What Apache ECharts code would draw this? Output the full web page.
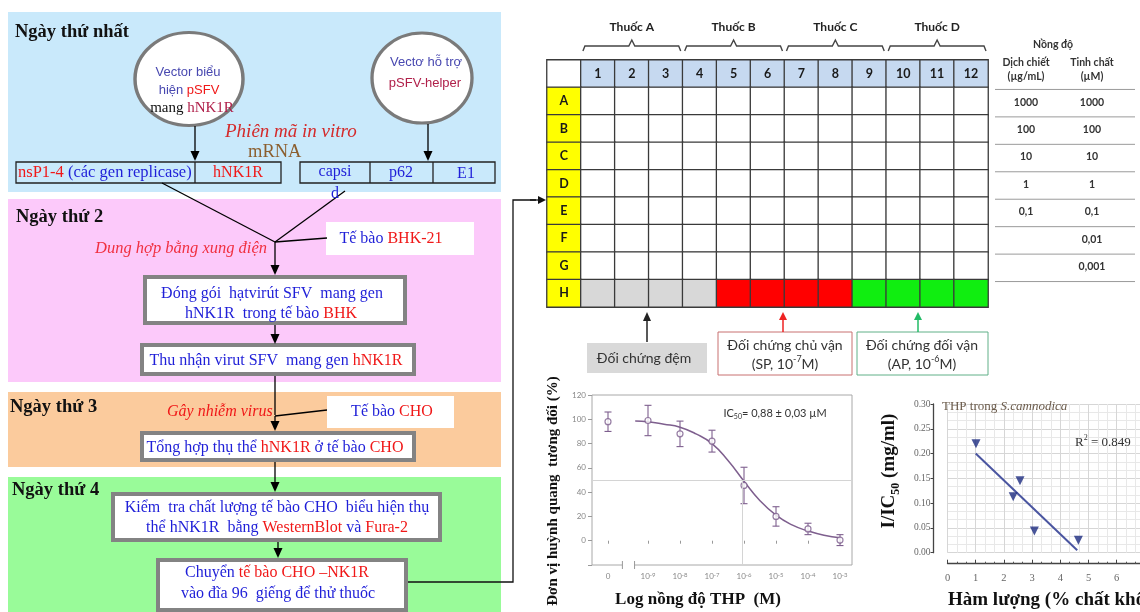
<!DOCTYPE html>
<html>
<head>
<meta charset="utf-8">
<script src="https://cdn.jsdelivr.net/npm/echarts@6/dist/echarts.min.js"></script>
<style>
  html, body { margin: 0; padding: 0; background: #fff; }
  #main { width: 1140px; height: 612px; }
</style>
</head>
<body>
<div id="main"></div>
<script>
// ---- data ----
var plateCols = ['1', '2', '3', '4', '5', '6', '7', '8', '9', '10', '11', '12'];
var plateRows = ['A', 'B', 'C', 'D', 'E', 'F', 'G', 'H'];
var drugs = ['Thuốc A', 'Thuốc B', 'Thuốc C', 'Thuốc D'];
var rowHWells = ['dem', 'dem', 'dem', 'dem', 'sp', 'sp', 'sp', 'sp', 'ap', 'ap', 'ap', 'ap'];
var concExtract = ['1000', '100', '10', '1', '0,1', '', ''];
var concPure = ['1000', '100', '10', '1', '0,1', '0,01', '0,001'];

var doseX = [-10.25, -9, -8, -7, -6, -5, -4, -3];
var doseExp = [null, -9, -8, -7, -6, -5, -4, -3];
var doseMean = [98, 99, 88, 82, 45.5, 20, 9.7, 0.5];
var doseErr = [8, 12.5, 10.5, 9, 15, 8, 4.7, 4.5];
var fitX = [-9.4, -9, -8.5, -8, -7.5, -7, -6.5, -6, -5.5, -5, -4.5, -4, -3.5, -3];
var fitY = [98.5, 98, 96, 93.5, 88, 80, 66, 49, 33, 21, 13, 8, 4.5, 2.5];
var ic50Log = -6.056;

var thpContent = [1.01, 2.33, 2.57, 3.08, 4.64];
var thpInvIC50 = [0.22, 0.113, 0.145, 0.044, 0.025];
var regX = [1.0, 4.6];
var regY = [0.2, 0.005];

// ---- helpers ----
var SERIF = '"Liberation Serif", "Times New Roman", serif';
var SANS = 'Lato, "Open Sans", sans-serif';
var ARIAL = '"Liberation Sans", Arial, sans-serif';
var BLUE = '#1f1fd8', RED = '#f01818', DRED = '#b0204a', PBLUE = '#4848b0';

function rt(x, y, parts, o) {
  o = o || {};
  var size = o.size || 16, fam = o.family || SERIF, rich = {}, s = '';
  parts.forEach(function (p, i) {
    var e = p[2] || {};
    var fs = e.script ? Math.round(size * 0.65) : (e.size || size);
    rich['p' + i] = {
      fill: p[1], fontSize: fs, fontFamily: e.family || fam,
      fontStyle: (e.italic || o.italic) ? 'italic' : 'normal',
      fontWeight: e.weight || o.weight || 'normal',
      lineHeight: e.script ? fs : Math.round(size * 1.35),
      verticalAlign: e.script === 'sub' ? 'bottom' : (e.script === 'sup' ? 'top' : 'middle')
    };
    s += '{p' + i + '|' + p[0] + '}';
  });
  return {
    type: 'text', x: x, y: y, rotation: o.rot || 0, z: 20, silent: true,
    style: { text: s, rich: rich, fontSize: size, fontFamily: fam,
      align: o.align || 'center', verticalAlign: 'middle',
      textAlign: o.align || 'center', textVerticalAlign: 'middle' }
  };
}
function rect(x, y, w, h, fill, stroke, lw, z) {
  return { type: 'rect', z: z || 10, silent: true, shape: { x: x, y: y, width: w, height: h },
    style: { fill: fill || 'none', stroke: stroke || null, lineWidth: lw || 0 } };
}
function ln(x1, y1, x2, y2, color, lw) {
  return { type: 'line', z: 15, silent: true, shape: { x1: x1, y1: y1, x2: x2, y2: y2 },
    style: { stroke: color || '#000', lineWidth: lw || 1.3 } };
}
function arrow(x1, y1, x2, y2, color, lw, hl, hw) {
  color = color || '#000'; lw = lw || 1.3; hl = hl || 10; hw = hw || 4.5;
  var dx = x2 - x1, dy = y2 - y1, len = Math.sqrt(dx * dx + dy * dy), ux = dx / len, uy = dy / len;
  var bx = x2 - ux * hl, by = y2 - uy * hl;
  return [ln(x1, y1, bx, by, color, lw),
    { type: 'polygon', z: 15, silent: true,
      shape: { points: [[x2, y2], [bx - uy * hw, by + ux * hw], [bx + uy * hw, by - ux * hw]] },
      style: { fill: color } }];
}
function bubble(cx, cy, rx, ry) {
  return { type: 'circle', z: 12, silent: true, x: cx, y: cy, scaleX: rx / ry,
    shape: { cx: 0, cy: 0, r: ry }, style: { fill: '#fff', stroke: '#7a7a7a', lineWidth: 3, strokeNoScale: true } };
}

// ---- left flow chart ----
var g = [];
g.push(rect(8, 12, 493, 180, '#c9e9fb', null, 0, 1));
g.push(rect(8, 199, 493, 183, '#fcc9fa', null, 0, 1));
g.push(rect(8, 392, 493, 75, '#fbcb9d', null, 0, 1));
g.push(rect(8, 477, 493, 140, '#99fb99', null, 0, 1));

g.push(rt(15, 32, [['Ngày thứ nhất', '#111']], { size: 18.5, weight: 'bold', align: 'left' }));
g.push(rt(16, 217, [['Ngày thứ 2', '#111']], { size: 18.5, weight: 'bold', align: 'left' }));
g.push(rt(10, 407, [['Ngày thứ 3', '#111']], { size: 18.5, weight: 'bold', align: 'left' }));
g.push(rt(12, 490, [['Ngày thứ 4', '#111']], { size: 18.5, weight: 'bold', align: 'left' }));

g.push(bubble(189, 79, 54, 46.5));
g.push(bubble(422, 78, 50, 45));
g.push(rt(188, 72, [['Vector biểu', PBLUE]], { size: 13, family: ARIAL }));
g.push(rt(189, 90, [['hiện ', PBLUE], ['pSFV', RED]], { size: 13, family: ARIAL }));
g.push(rt(192, 108, [['mang ', '#111'], ['hNK1R', DRED]], { size: 15 }));
g.push(rt(426, 62, [['Vectơ hỗ trợ', PBLUE]], { size: 13, family: ARIAL }));
g.push(rt(425, 83, [['pSFV-helper', DRED]], { size: 13, family: ARIAL }));
g = g.concat(arrow(195, 126, 195, 161), arrow(428, 124, 428, 161));

g.push(rt(225, 132, [['Phiên mã in vitro', '#d42a2a']], { size: 19, italic: true, align: 'left' }));
g.push(rt(248, 152, [['mRNA', '#8b5e2e']], { size: 18.5, align: 'left' }));

g.push(rect(16, 162, 265, 21, 'none', '#222', 1.3, 14));
g.push(ln(195, 162, 195, 183, '#222', 1.3));
g.push(rt(18, 173, [['nsP1-4', RED], [' (các gen replicase)', BLUE]], { size: 16.5, align: 'left' }));
g.push(rt(238, 173, [['hNK1R', RED]], { size: 16 }));
g.push(rect(300, 162, 195, 21, 'none', '#222', 1.3, 14));
g.push(ln(370, 162, 370, 183, '#222', 1.3));
g.push(ln(433, 162, 433, 183, '#222', 1.3));
g.push(rt(335, 172, [['capsi', BLUE]], { size: 16 }));
g.push(rt(335, 194, [['d', BLUE]], { size: 16 }));
g.push(rt(401, 173, [['p62', BLUE]], { size: 16 }));
g.push(rt(466, 174, [['E1', BLUE]], { size: 16 }));

// day 2
g.push(ln(162, 183, 275, 242));
g.push(ln(345, 191, 275, 242));
g.push(rect(326, 222, 148, 33, '#fff', null, 0, 5));
g.push(ln(327, 238, 275, 242));
g.push(rt(391, 239, [['Tế bào ', BLUE], ['BHK-21', RED]], { size: 16 }));
g.push(rt(267, 249, [['Dung hợp bằng xung điện', '#f03040']], { size: 16.5, italic: true, align: 'right' }));
g = g.concat(arrow(275, 242, 275, 275));
g.push(rect(145, 277, 260, 46, '#fff', '#838383', 4, 10));
g.push(rt(272, 294, [['Đóng gói  hạtvirút SFV  mang gen', BLUE]], { size: 16 }));
g.push(rt(271, 314, [['hNK1R  trong tế bào ', BLUE], ['BHK', RED]], { size: 16 }));
g = g.concat(arrow(275, 325, 275, 344));
g.push(rect(142, 345, 272, 29, '#fff', '#838383', 4, 10));
g.push(rt(276, 361, [['Thu nhận virut SFV  mang gen ', BLUE], ['hNK1R', RED]], { size: 16 }));
g.push(ln(275, 376, 275, 415));

// day 3
g.push(rect(327, 396, 127, 32, '#fff', null, 0, 5));
g.push(ln(327, 410, 275, 416));
g.push(rt(167, 412, [['Gây nhiễm virus', RED]], { size: 16, italic: true, align: 'left' }));
g.push(rt(392, 412, [['Tế bào ', BLUE], ['CHO', RED]], { size: 16 }));
g = g.concat(arrow(275, 416, 275, 431));
g.push(rect(142, 433, 272, 27, '#fff', '#838383', 4, 10));
g.push(rt(275, 448, [['Tổng hợp thụ thể ', BLUE], ['hNK1R', RED], [' ở tế bào ', BLUE], ['CHO', RED]], { size: 16 }));
g = g.concat(arrow(275, 462, 275, 492));

// day 4
g.push(rect(113, 494, 327, 46, '#fff', '#838383', 4, 10));
g.push(rt(277, 508, [['Kiểm  tra chất lượng tế bào CHO  biểu hiện thụ', BLUE]], { size: 16 }));
g.push(rt(277, 528, [['thể hNK1R  bằng ', BLUE], ['WesternBlot', RED], [' và ', BLUE], ['Fura-2', RED]], { size: 16 }));
g = g.concat(arrow(278, 542, 278, 558));
g.push(rect(158, 560, 248, 50, '#fff', '#838383', 4, 10));
g.push(rt(277, 573, [['Chuyển ', BLUE], ['tế bào CHO –NK1R', RED]], { size: 16 }));
g.push(rt(278, 594, [['vào đĩa 96  giếng để thử thuốc', BLUE]], { size: 16 }));

g.push({ type: 'polyline', z: 15, silent: true, shape: { points: [[408, 582], [513, 582], [513, 200], [536, 200]] },
  style: { stroke: '#111', lineWidth: 1.3, fill: null } });
g = g.concat(arrow(530, 200, 546, 200, '#111', 1.3, 8, 4));

// ---- plate decorations ----
var PL = 547, PT = 60, PW = 441, PH = 247;
var cw = PW / 13, ph = PH / 9;
drugs.forEach(function (d, i) {
  var x0 = PL + cw * (1 + 3 * i) + 2, x1 = PL + cw * (4 + 3 * i) - 2, xm = (x0 + x1) / 2;
  g.push({ type: 'polyline', z: 15, silent: true,
    shape: { points: [[x0, 51], [x0 + 2, 46], [xm - 3, 46], [xm, 40], [xm + 3, 46], [x1 - 2, 46], [x1, 51]] },
    style: { stroke: '#444', lineWidth: 1.4, fill: null } });
  g.push(rt(xm, 27, [[d, '#222']], { size: 12, family: SANS, weight: 'bold' }));
});

// concentration table
var TX1 = 1026, TX2 = 1092;
g.push(rt(1053, 45, [['Nồng độ', '#333']], { size: 10.5, family: SANS, weight: 'bold' }));
g.push(rt(TX1, 63, [['Dịch chiết', '#333']], { size: 10.5, family: SANS, weight: 'bold' }));
g.push(rt(TX2, 63, [['Tinh chất', '#333']], { size: 10.5, family: SANS, weight: 'bold' }));
g.push(rt(TX1, 77, [['(µg/mL)', '#333']], { size: 10.5, family: SANS, weight: 'bold' }));
g.push(rt(TX2, 77, [['(µM)', '#333']], { size: 10.5, family: SANS, weight: 'bold' }));
for (var k = 0; k <= concPure.length; k++) {
  var ly = PT + ph * (k + 1) + 2;
  g.push(ln(995, ly, 1135, ly, '#9a9a9a', 1));
}
concPure.forEach(function (v, j) {
  var cy = PT + ph * (j + 1.5) + 1;
  if (concExtract[j]) g.push(rt(TX1, cy, [[concExtract[j], '#333']], { size: 10.5, family: SANS, weight: 'bold' }));
  g.push(rt(TX2, cy, [[v, '#333']], { size: 10.5, family: SANS, weight: 'bold' }));
});

// controls legend below plate
g = g.concat(arrow(647, 342, 647, 312, '#222', 1.5, 9, 4));
g = g.concat(arrow(783, 332, 783, 312, '#ee2222', 1.5, 8, 4));
g = g.concat(arrow(918, 332, 918, 312, '#22bb66', 1.5, 8, 4));
g.push(rect(587, 343, 120, 30, '#d9d9d9', null, 0, 10));
g.push(rt(644, 358, [['Đối chứng đệm', '#333']], { size: 14, family: SANS }));
g.push(rect(718, 332, 134, 43, '#fff', '#c87070', 1, 10));
g.push(rt(785, 345, [['Đối chứng chủ vận', '#333']], { size: 14, family: SANS }));
g.push(rt(785, 364, [['(SP, 10', '#333'], ['-7', '#333', { script: 'sup' }], ['M)', '#333']], { size: 14, family: SANS }));
g.push(rect(857, 332, 131, 43, '#fff', '#60b088', 1, 10));
g.push(rt(922, 345, [['Đối chứng đối vận', '#333']], { size: 14, family: SANS }));
g.push(rt(922, 364, [['(AP, 10', '#333'], ['-6', '#333', { script: 'sup' }], ['M)', '#333']], { size: 14, family: SANS }));

// ---- chart titles ----
g.push(rt(553, 491, [['Đơn vị huỳnh quang  tương đối (%)', '#111']], { size: 15, weight: 'bold', rot: Math.PI / 2 }));
g.push(rt(698, 600, [['Log nồng độ THP  (M)', '#111']], { size: 17, weight: 'bold' }));
g.push(rt(775, 413, [['IC', '#333'], ['50', '#333', { script: 'sub' }], ['= 0,88 ± 0,03 µM', '#333']], { size: 11, family: SANS }));

g.push(rt(889, 471, [['I/IC', '#111'], ['50', '#111', { script: 'sub' }], [' (mg/ml)', '#111']], { size: 19, weight: 'bold', rot: Math.PI / 2 }));
g.push(rt(948, 600, [['Hàm lượng (% chất khô)', '#111']], { size: 19, weight: 'bold', align: 'left' }));
g.push(rt(942, 407, [['THP trong ', '#6a5a4a'], ['S.camnodica', '#6a5a4a', { italic: true }]], { size: 13, align: 'left' }));
g.push(rt(1075, 443, [['R', '#333'], ['2', '#333', { script: 'sup' }], [' = 0.849', '#333']], { size: 13, align: 'left' }));

// ---- plate cells ----
var wellColor = { dem: '#d8d8d8', sp: '#ff0000', ap: '#10ee10' };
var plateData = [{ value: [0, 0, 0], name: '', itemStyle: { color: '#ffffff' } }];
plateCols.forEach(function (c, i) {
  plateData.push({ value: [i + 1, 0, 0], name: c, itemStyle: { color: '#c6d9f0' } });
});
plateRows.forEach(function (r, j) {
  plateData.push({ value: [0, j + 1, 0], name: r, itemStyle: { color: '#ffff00' } });
  plateCols.forEach(function (c, i) {
    plateData.push({ value: [i + 1, j + 1, 0], name: '',
      itemStyle: { color: r === 'H' ? wellColor[rowHWells[i]] : '#ffffff' } });
  });
});

var dosePoints = doseX.map(function (x, i) { return [x, doseMean[i]]; });
var doseBars = doseX.map(function (x, i) { return [x, doseMean[i] - doseErr[i], doseMean[i] + doseErr[i]]; });
var doseFit = fitX.map(function (x, i) { return [x, fitY[i]]; });
var thpPoints = thpContent.map(function (x, i) { return [x, thpInvIC50[i]]; });
var regLine = regX.map(function (x, i) { return [x, regY[i]]; });

var DOSE_C = '#7e5f8e';

var chart = echarts.init(document.getElementById('main'));
chart.setOption({
  animation: false,
  backgroundColor: '#ffffff',
  graphic: { elements: g },
  grid: [
    { left: PL, top: PT, width: PW, height: PH, outerBoundsMode: 'none' },
    { left: 592, top: 395, width: 260, height: 170, show: true, borderColor: '#a8a8a8', borderWidth: 1, outerBoundsMode: 'none' },
    { left: 947.5, top: 404, width: 225.6, height: 148.7, outerBoundsMode: 'none' }
  ],
  xAxis: [
    { gridIndex: 0, type: 'category', show: false, data: [''].concat(plateCols) },
    { gridIndex: 1, type: 'value', min: -10.75, max: -2.625,
      axisLine: { show: false }, splitLine: { show: false },
      axisTick: { show: true, customValues: doseX, length: 3, lineStyle: { color: '#999' } },
      axisLabel: { customValues: doseX, color: '#888', fontSize: 8, fontFamily: SANS, margin: 7,
        formatter: function (v) {
          var i = doseX.indexOf(v);
          return doseExp[i] == null ? '0' : '10{s|' + doseExp[i] + '}';
        },
        rich: { s: { fontSize: 6, color: '#888', verticalAlign: 'top', lineHeight: 7 } } } },
    { gridIndex: 2, type: 'value', min: 0, max: 8, interval: 1, offset: 11,
      axisLine: { show: true, onZero: false, lineStyle: { color: '#444', width: 1.3 } },
      axisTick: { inside: true, length: 4, lineStyle: { color: '#444' } },
      minorTick: { show: true, splitNumber: 3, length: 2, lineStyle: { color: '#555' } },
      axisLabel: { color: '#666', fontSize: 10.5, fontFamily: SERIF, margin: 9 },
      splitLine: { show: true, lineStyle: { color: '#d6d6d6' } },
      minorSplitLine: { show: true, lineStyle: { color: '#e8e8e8' } } }
  ],
  yAxis: [
    { gridIndex: 0, type: 'category', show: false, inverse: true, data: [''].concat(plateRows) },
    { gridIndex: 1, type: 'value', min: -20, max: 120, interval: 20,
      axisLine: { show: false }, splitLine: { show: false },
      axisTick: { show: true, length: 4, lineStyle: { color: '#999' } },
      axisLabel: { color: '#888', fontSize: 8, fontFamily: SANS, margin: 6,
        formatter: function (v) { return v < 0 ? '' : v; } } },
    { gridIndex: 2, type: 'value', min: 0, max: 0.3, interval: 0.05, offset: 14,
      axisLine: { show: true, onZero: false, lineStyle: { color: '#444', width: 1.3 } },
      axisTick: { show: true, length: 3, lineStyle: { color: '#444' } },
      axisLabel: { color: '#666', fontSize: 9.5, fontFamily: SERIF, margin: 3,
        formatter: function (v) { return v.toFixed(2); } },
      splitLine: { show: true, lineStyle: { color: '#d6d6d6' } },
      minorSplitLine: { show: true, lineStyle: { color: '#e8e8e8' } },
      minorTick: { show: false, splitNumber: 3 } }
  ],
  series: [
    { type: 'heatmap', xAxisIndex: 0, yAxisIndex: 0, data: plateData,
      itemStyle: { borderColor: '#3a3a3a', borderWidth: 1.3 },
      label: { show: true, formatter: '{b}', color: '#1a1a1a', fontSize: 12.5, fontWeight: 'bold', fontFamily: SANS },
      emphasis: { disabled: true } },
    { type: 'custom', xAxisIndex: 1, yAxisIndex: 1, data: doseBars, z: 3, clip: false,
      encode: { x: 0, y: [1, 2] },
      renderItem: function (params, api) {
        var lo = api.coord([api.value(0), api.value(1)]), hi = api.coord([api.value(0), api.value(2)]);
        var st = { stroke: DOSE_C, lineWidth: 1.1 };
        return { type: 'group', children: [
          { type: 'line', shape: { x1: lo[0], y1: lo[1], x2: hi[0], y2: hi[1] }, style: st },
          { type: 'line', shape: { x1: lo[0] - 3.5, y1: lo[1], x2: lo[0] + 3.5, y2: lo[1] }, style: st },
          { type: 'line', shape: { x1: hi[0] - 3.5, y1: hi[1], x2: hi[0] + 3.5, y2: hi[1] }, style: st }
        ] };
      } },
    { type: 'line', xAxisIndex: 1, yAxisIndex: 1, data: doseFit, smooth: true, showSymbol: false, z: 2,
      lineStyle: { color: DOSE_C, width: 1.5 },
      markLine: { silent: true, symbol: 'none', label: { show: false },
        lineStyle: { color: '#d4d4d4', type: 'solid', width: 1 },
        data: [{ yAxis: 50 }, [{ coord: [ic50Log, 50] }, { coord: [ic50Log, -20] }]] } },
    { type: 'scatter', xAxisIndex: 1, yAxisIndex: 1, data: dosePoints, symbol: 'circle', symbolSize: 6, z: 4,
      itemStyle: { color: '#fff', borderColor: DOSE_C, borderWidth: 1.2 } },
    { type: 'custom', xAxisIndex: 1, yAxisIndex: 1, data: [[-9.8, -9.42]], z: 5, clip: false,
      encode: { x: [0, 1] },
      renderItem: function (params, api) {
        var a = api.coord([api.value(0), -20]), b = api.coord([api.value(1), -20]);
        return { type: 'group', children: [
          { type: 'rect', shape: { x: a[0], y: a[1] - 2, width: b[0] - a[0], height: 4 }, style: { fill: '#fff' } },
          { type: 'line', shape: { x1: a[0], y1: a[1] - 4, x2: a[0], y2: a[1] + 4 }, style: { stroke: '#999', lineWidth: 1 } },
          { type: 'line', shape: { x1: b[0], y1: b[1] - 4, x2: b[0], y2: b[1] + 4 }, style: { stroke: '#999', lineWidth: 1 } }
        ] };
      } },
    { type: 'line', xAxisIndex: 2, yAxisIndex: 2, data: regLine, showSymbol: false, z: 3,
      lineStyle: { color: '#4a55a0', width: 2 } },
    { type: 'scatter', xAxisIndex: 2, yAxisIndex: 2, data: thpPoints, symbol: 'triangle', symbolRotate: 180,
      symbolSize: 9, z: 4, itemStyle: { color: '#1c2a80' } }
  ]
});
</script>
</body>
</html>
